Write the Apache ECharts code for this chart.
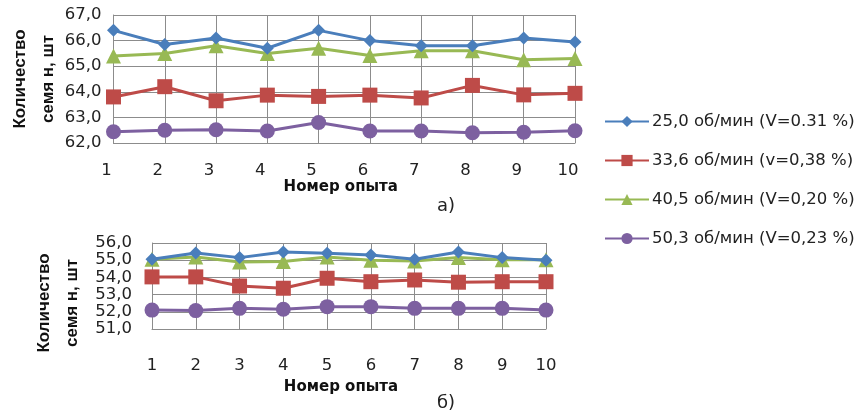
<!DOCTYPE html>
<html>
<head>
<meta charset="utf-8">
<script src="https://cdn.jsdelivr.net/npm/echarts@6/dist/echarts.min.js"></script>
<style>
  html, body { margin: 0; padding: 0; background: #fff; }
  #chart { width: 858px; height: 414px; }
</style>
</head>
<body>
<div id="chart"></div>
<script>
var experiments = ["1", "2", "3", "4", "5", "6", "7", "8", "9", "10"];
var seriesNames = ["25,0 об/мин (V=0.31 %)", "33,6 об/мин (v=0,38 %)", "40,5 об/мин (V=0,20 %)", "50,3 об/мин (V=0,23 %)"];

// chart a)
var topBlue   = [66.4, 65.85, 66.1, 65.7, 66.4, 66.0, 65.8, 65.8, 66.1, 65.95];
var topRed    = [63.8, 64.2, 63.65, 63.87, 63.82, 63.87, 63.76, 64.25, 63.88, 63.94];
var topGreen  = [65.4, 65.5, 65.8, 65.5, 65.7, 65.42, 65.6, 65.6, 65.25, 65.3];
var topPurple = [62.44, 62.5, 62.52, 62.47, 62.8, 62.47, 62.47, 62.4, 62.42, 62.48];

// chart б)
var botBlue   = [55.05, 55.42, 55.15, 55.48, 55.4, 55.3, 55.05, 55.48, 55.15, 55.0];
var botRed    = [54.03, 54.03, 53.5, 53.37, 53.95, 53.75, 53.85, 53.72, 53.75, 53.75];
var botGreen  = [55.05, 55.18, 54.9, 54.93, 55.18, 55.0, 54.95, 55.15, 55.02, 55.02];
var botPurple = [52.1, 52.07, 52.2, 52.15, 52.3, 52.3, 52.2, 52.2, 52.2, 52.1];

var colors = ["#4a7ebb", "#be4b48", "#98b954", "#7d60a0"];
var symbols = ["diamond", "rect", "triangle", "circle"];
var symbolSizes = [13, 15, 15, 15];

var gridColor = "#8c8c8c";
var tickFont = { fontFamily: "DejaVu Sans", fontSize: 16.5, color: "#222" };

function makeSeries(idx, data, k) {
    return {
        name: seriesNames[k],
        type: "line",
        xAxisIndex: idx,
        yAxisIndex: idx,
        data: data,
        symbol: symbols[k],
        symbolSize: symbolSizes[k],
        showAllSymbol: true,
        lineStyle: { width: 3, color: colors[k] },
        itemStyle: { color: colors[k] },
        z: 10 - k
    };
}

function makeX(idx, labelMargin, labelPad, nameGap, namePad) {
    return {
        gridIndex: idx,
        type: "category",
        boundaryGap: false,
        data: experiments,
        axisLine: { lineStyle: { color: gridColor, width: 1 } },
        axisTick: { show: false },
        splitLine: { show: true, lineStyle: { color: gridColor, width: 1 } },
        axisLabel: Object.assign({ margin: labelMargin, padding: labelPad }, tickFont),
        name: "Номер опыта",
        nameLocation: "middle",
        nameGap: nameGap,
        nameMoveOverlap: false,
        nameTextStyle: { fontFamily: "DejaVu Sans", fontWeight: "bold", fontSize: 15, color: "#111", padding: [0, namePad, 0, 0] }
    };
}

function makeY(idx, min, max, labelMargin, nameGap, namePad) {
    return {
        gridIndex: idx,
        type: "value",
        min: min,
        max: max,
        interval: 1,
        axisLine: { show: true, lineStyle: { color: gridColor, width: 1 } },
        axisTick: { show: false },
        splitLine: { show: true, lineStyle: { color: gridColor, width: 1 } },
        axisLabel: Object.assign({
            margin: labelMargin,
            formatter: function (v) { return v.toFixed(1).replace(".", ","); }
        }, tickFont),
        name: "Количество\nсемя н, шт",
        nameLocation: "middle",
        nameRotate: 90,
        nameGap: nameGap,
        nameMoveOverlap: false,
        nameTextStyle: { fontFamily: "Liberation Sans", fontWeight: "bold", fontSize: 17, color: "#111", lineHeight: 28, padding: [0, namePad, 0, 0] }
    };
}

var chart = echarts.init(document.getElementById("chart"));

chart.setOption({
    animation: false,
    color: colors,
    grid: [
        { left: 113.5, top: 15, width: 461.5, height: 128, outerBoundsMode: "none" },
        { left: 152, top: 243, width: 394, height: 86, outerBoundsMode: "none" }
    ],
    xAxis: [makeX(0, 19, [0, 14, 0, 0], 37, 7), makeX(1, 28, 0, 51, 16)],
    yAxis: [makeY(0, 62, 67, 12, 51, 0), makeY(1, 51, 56, 20, 66, 34)],
    legend: {
        orient: "vertical",
        left: 604,
        top: 113,
        padding: 0,
        itemWidth: 44,
        itemHeight: 14,
        itemGap: 22,
        textStyle: { fontFamily: "DejaVu Sans", fontSize: 16.5, color: "#222", padding: [0, 0, 0, -2] },
        data: seriesNames
    },
    graphic: [
        { type: "text", left: 437, top: 197, style: { text: "а)", fontFamily: "DejaVu Sans", fontSize: 18, fill: "#222" } },
        { type: "text", left: 437, top: 394, style: { text: "б)", fontFamily: "DejaVu Sans", fontSize: 18, fill: "#222" } }
    ],
    series: [
        makeSeries(0, topBlue, 0), makeSeries(0, topRed, 1), makeSeries(0, topGreen, 2), makeSeries(0, topPurple, 3),
        makeSeries(1, botBlue, 0), makeSeries(1, botRed, 1), makeSeries(1, botGreen, 2), makeSeries(1, botPurple, 3)
    ]
});
</script>
</body>
</html>
